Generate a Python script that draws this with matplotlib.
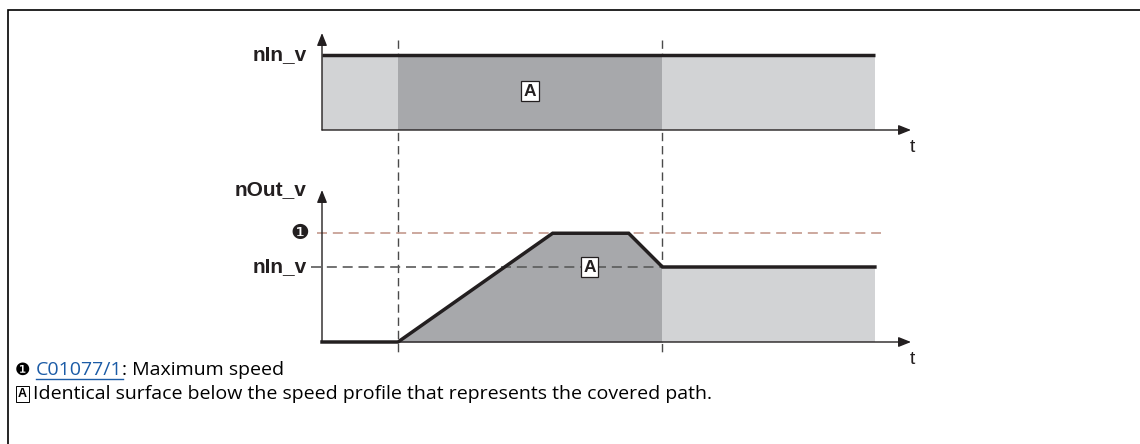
import numpy as np
import matplotlib
matplotlib.use("Agg")
import matplotlib.pyplot as plt
import matplotlib.transforms as mtransforms

# 时间点 (任意单位) 与速度 (以 nIn_v 为 1)
t_in = [0, 14.55]
n_in = [1.0, 1.0]
t_out = [0, 2.0, 6.07, 8.07, 8.96, 14.55]
n_out = [0, 0, 1.45, 1.45, 1.0, 1.0]
t_mark = [2.0, 8.96]          # 两条竖直虚线
n_max = 1.45
n_set = 1.0

W, H = 1140, 444
LIGHT = "#d2d3d5"
DARK = "#a7a8ab"
INK = "#231f20"
BOLD = dict(family=["Liberation Sans", "DejaVu Sans"], weight="bold", size=15)
ARROW = "-|>,head_length=0.75,head_width=0.3"

fig = plt.figure(figsize=(W / 100, H / 100), dpi=100)

# 背景坐标系 (像素)
bg = fig.add_axes([0, 0, 1, 1])
bg.set_xlim(0, W)
bg.set_ylim(H, 0)
bg.axis("off")
bg.plot([7.5, 7.5, W], [H, 10.5, 10.5], color="black", lw=1.2, solid_joinstyle="miter")

px = 38.0  # 每个时间单位的像素
def panel(y0_px, top_px):
    h = y0_px - top_px
    ax = fig.add_axes([322 / W, (H - y0_px) / H, 15.5 * px / W, h / H])
    ax.set_xlim(0, 15.5)
    ax.set_ylim(0, h / 75.0)
    ax.axis("off")
    ytop = h / 75.0
    ax.annotate("", xy=(0, ytop), xytext=(0, 0),
                arrowprops=dict(arrowstyle=ARROW, color=INK, lw=1.0, shrinkA=0, shrinkB=0))
    ax.annotate("", xy=(15.5, 0), xytext=(0, 0),
                arrowprops=dict(arrowstyle=ARROW, color=INK, lw=1.0, shrinkA=0, shrinkB=0))
    ax.text(15.55, -0.12, "t", ha="center", va="top", fontsize=14,
            family=["Liberation Sans", "DejaVu Sans"], color=INK)
    return ax, ytop

# 上图: nIn_v
ax1, top1 = panel(130, 33)
ax1.fill_between(t_in, 0, n_in, color=LIGHT, lw=0)
ax1.fill_between([t_mark[0], t_mark[1]], 0, n_set, color=DARK, lw=0)
ax1.plot(t_in, n_in, color=INK, lw=2.5, solid_capstyle="butt")
ax1.text(-0.4, n_set, "nIn_v", ha="right", va="center", color=INK, **BOLD)
ax1.text(5.47, 0.52, "A", ha="center", va="center", color=INK,
         family=["Liberation Sans"], weight="bold", size=12.5,
         bbox=dict(boxstyle="square,pad=0.15", fc="white", ec=INK, lw=0.9))

# 下图: nOut_v
ax2, top2 = panel(342, 190)
t_arr = np.array(t_out)
n_arr = np.array(n_out)
ax2.fill_between(t_arr, 0, n_arr, where=(t_arr >= t_mark[0]) & (t_arr <= t_mark[1]),
                 color=DARK, lw=0)
ax2.fill_between(t_arr, 0, n_arr, where=(t_arr >= t_mark[1]), color=LIGHT, lw=0)
ax2.plot([-0.13, 14.7], [n_max, n_max], color="#c49a8e", lw=1.2, ls=(0, (6, 3.5)), clip_on=False)
ax2.plot([-0.3, t_mark[1]], [n_set, n_set], color="#5a5a5a", lw=1.2, ls=(0, (6, 3.5)), clip_on=False)
ax2.plot(t_out, n_out, color=INK, lw=2.5, solid_joinstyle="miter", clip_on=False)
ax2.text(-0.4, top2, "nOut_v", ha="right", va="center", color=INK, **BOLD)
ax2.text(-0.4, n_set, "nIn_v", ha="right", va="center", color=INK, **BOLD)
ax2.text(-0.58, n_max, "\u2776", ha="center", va="center", fontsize=15,
         family=["DejaVu Sans"], color=INK)
ax2.text(7.04, n_set, "A", ha="center", va="center", color=INK,
         family=["Liberation Sans"], weight="bold", size=12.5,
         bbox=dict(boxstyle="square,pad=0.15", fc="white", ec=INK, lw=0.9))

# 竖直虚线 (贯穿两图)
tr = mtransforms.blended_transform_factory(ax1.transData, bg.transData)
for tm in t_mark:
    bg.plot([tm, tm], [40, 353], color="#4a4a4a", lw=1.0, ls=(0, (6, 3.5)), transform=tr)

# 注释
FOOT = dict(family=["Open Sans", "DejaVu Sans"], size=14, color="black")
bg.text(15, 370, "\u2776", ha="left", va="center", family=["DejaVu Sans"], size=12.5)
link = bg.text(36, 370, "C01077/1", ha="left", va="center", color="#1b5ba6",
               family=["Open Sans"], size=14)
fig.canvas.draw()
r = fig.canvas.get_renderer()
bb = link.get_window_extent(r).transformed(bg.transData.inverted())
bg.plot([bb.x0, bb.x1], [379, 379], color="#1b5ba6", lw=1.0)
bg.text(bb.x1, 370, ": Maximum speed", ha="left", va="center", **FOOT)
bg.text(22.5, 394, "A", ha="center", va="center", family=["Liberation Sans"], weight="bold",
        size=9, bbox=dict(boxstyle="square,pad=0.15", fc="white", ec="black", lw=0.7))
bg.text(33, 394, "Identical surface below the speed profile that represents the covered path.",
        ha="left", va="center", **FOOT)

fig.savefig("out.png", dpi=100)
